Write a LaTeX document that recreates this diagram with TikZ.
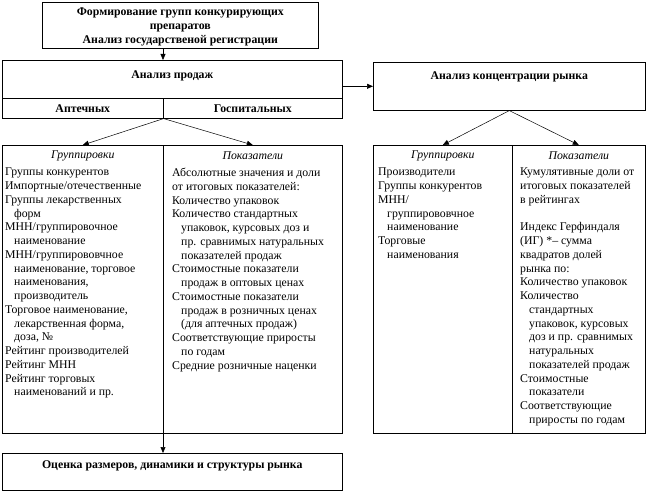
\documentclass[tikz,border=0pt]{standalone}
\usepackage{fontspec}
\setmainfont{Liberation Serif}
\usetikzlibrary{arrows.meta}
\usetikzlibrary{positioning}

\newcommand{\ind}{\hspace*{9pt}}

\begin{document}
\begin{tikzpicture}[
          x=1pt,
          y=-1pt,
          font=\fontsize{11.8}{13.75}\selectfont,
          box/.style={
            draw,
            line width=0.6pt,
            inner sep=0pt,
            anchor=north west},
          head/.style={
            font=\fontsize{11.8}{14}\selectfont\bfseries},
          colhead/.style={
            font=\fontsize{11.8}{13.75}\selectfont\itshape},
          list/.style={
            align=left,
            anchor=north west,
            inner sep=0pt},
          arr/.style={
            -{Triangle[length=6pt,width=5pt]},
            line width=0.5pt},
        ]
          \useasboundingbox (0,0) rectangle (650,494);

          % upper row
          \node[box, minimum width=276pt, minimum height=46pt] (form) at (42,2) {};
          \node[head, align=center] at ([yshift=-2pt]form.center)
            {Формирование групп конкурирующих\\препаратов\\Анализ государственой регистрации};
          \node[box, minimum width=340pt, minimum height=38pt] (sales) at (2,60) {};
          \node[head, below=7pt of sales.north] {Анализ продаж};
          \node[box, minimum width=161pt, minimum height=20pt, head] (pharm) at (2,98) {Аптечных};
          \node[box, minimum width=179pt, minimum height=20pt, head] (hosp) at (163,98) {Госпитальных};
          \node[box, minimum width=272pt, minimum height=48pt] (conc) at (373,62) {};
          \node[head, below=6pt of conc.north] {Анализ концентрации рынка};

          % column boxes
          \node[box, minimum width=161pt, minimum height=288pt] (grp1) at (2,145) {};
          \node[box, minimum width=179pt, minimum height=288pt] (ind1) at (163,145) {};
          \node[box, minimum width=139pt, minimum height=288pt] (grp2) at (373,145) {};
          \node[box, minimum width=133pt, minimum height=288pt] (ind2) at (512,145) {};
          \node[box, minimum width=340pt, minimum height=37pt] (res) at (2,453) {};
          \node[head, below=4pt of res.north] {Оценка размеров, динамики и структуры рынка};

          % column headings
          \node[colhead] at ([yshift=-11pt]grp1.north) {Группировки};
          \node[colhead] at ([yshift=-11pt]ind1.north) {Показатели};
          \node[colhead] at ([yshift=-11pt]grp2.north) {Группировки};
          \node[colhead] at ([yshift=-11pt]ind2.north) {Показатели};

          % column texts
          \node[list] (grp1t) at ([shift={(3pt,-23pt)}]grp1.north west)
            {Группы конкурентов\\Импортные/отечественные\\Группы лекарственных\\\ind форм\\
             МНН/группировочное\\\ind наименование\\МНН/группирововчное\\\ind наименование, торговое\\
             \ind наименования,\\\ind производитель\\Торговое наименование,\\\ind лекарственная форма,\\
             \ind доза, №\\Рейтинг производителей\\Рейтинг МНН\\Рейтинг торговых\\\ind наименований и пр.};
          \node[list] (ind1t) at ([shift={(9pt,-23pt)}]ind1.north west)
            {Абсолютные значения и доли\\от итоговых показателей:\\Количество упаковок\\Количество стандартных\\
             \ind упаковок, курсовых доз и\\\ind пр. сравнимых натуральных\\\ind показателей продаж\\
             Стоимостные показатели\\\ind продаж в оптовых ценах\\Стоимостные показатели\\
             \ind продаж в розничных ценах\\\ind (для аптечных продаж)\\Соответствующие приросты\\
             \ind по годам\\Средние розничные наценки};
          \node[list] (grp2t) at ([shift={(5pt,-23pt)}]grp2.north west)
            {Производители\\Группы конкурентов\\МНН/\\\ind группирововчное\\\ind наименование\\
             Торговые\\\ind наименования};
          \node[list] (ind2t) at ([shift={(8pt,-23pt)}]ind2.north west)
            {Кумулятивные доли от\\итоговых показателей\\в рейтингах\\[13.75pt]
             Индекс Герфиндаля\\(ИГ) *– сумма\\квадратов долей\\рынка по:\\Количество упаковок\\
             Количество\\\ind стандартных\\\ind упаковок, курсовых\\\ind доз и пр. сравнимых\\
             \ind натуральных\\\ind показателей продаж\\Стоимостные\\\ind показатели\\
             Соответствующие\\\ind приросты по годам};

          % connectors
          \draw[arr] (form.south -| hosp.west) -- (sales.north -| hosp.west);
          \draw[arr] (conc.west -| sales.east) -- (conc.west);
          \draw[arr] (pharm.south east) -- (grp1.north);
          \draw[arr] (pharm.south east) -- (ind1.north);
          \draw[arr] (conc.south) -- (grp2.north);
          \draw[arr] (conc.south) -- (ind2.north);
          \draw[arr] (ind1.south west) -- (res.north -| ind1.west);
        \end{tikzpicture}
\end{document}
